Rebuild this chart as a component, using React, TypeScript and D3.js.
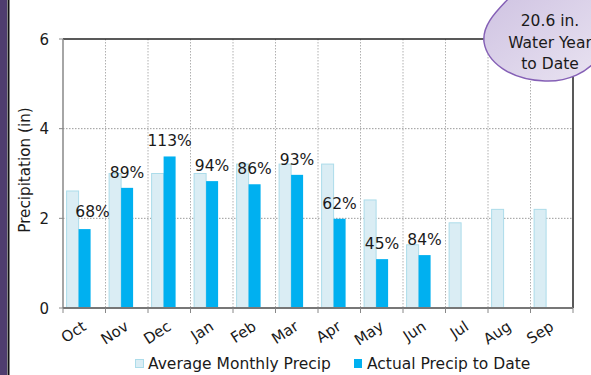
import React from "react";
import * as d3 from "d3";

const months = ["Oct", "Nov", "Dec", "Jan", "Feb", "Mar", "Apr", "May", "Jun", "Jul", "Aug", "Sep"];
const avgPrecip = [2.61, 3.0, 3.0, 3.0, 3.21, 3.21, 3.21, 2.41, 1.41, 1.9, 2.2, 2.2];
const actualPrecip = [1.76, 2.68, 3.38, 2.83, 2.76, 2.97, 1.99, 1.09, 1.18];
const pctLabels = ["68%", "89%", "113%", "94%", "86%", "93%", "62%", "45%", "84%"];
const yTicks = [0, 2, 4, 6];
const bubbleLines = ["20.6 in.", "Water Year", "to Date"];
const legendItems = ["Average Monthly Precip", "Actual Precip to Date"];

const W = 591, H = 375;
const L = 63, R = 573, T = 39, B = 308;
const FONT = "'DejaVu Sans', sans-serif";

export default function App() {
  const x = d3.scaleBand<string>().domain(months).range([L, R]).padding(0);
  const y = d3.scaleLinear().domain([0, 6]).range([B, T]);
  const sub = d3.scaleBand<string>().domain(["avg", "act"]).range([3.6, 27.6]).padding(0);
  const bw = sub.bandwidth();
  const boundaries = d3.range(months.length + 1).map((i) => L + i * x.step());

  return (
    <svg width={W} height={H} style={{ position: "absolute", left: 0, top: 0, background: "#fff" }} fontFamily={FONT}>
      <defs>
        <linearGradient id="bub" x1="0" y1="0" x2="1" y2="1">
          <stop offset="0" stopColor="#cfc3e2" />
          <stop offset="1" stopColor="#e9e3f1" />
        </linearGradient>
      </defs>
      {/* left frame */}
      <rect x={0} y={0} width={7} height={H} fill="#4f3d6f" />
      <rect x={7.5} y={0} width={2} height={H} fill="#111" />

      {/* gridlines */}
      {yTicks.filter((t) => t > 0 && t < 6).map((t) => (
        <line key={"hg" + t} x1={L} x2={R} y1={y(t)} y2={y(t)} stroke="#9a9a9a" strokeDasharray="1.5,1.5" />
      ))}
      {boundaries.slice(1, -1).map((bx, i) => (
        <line key={"vg" + i} x1={bx} x2={bx} y1={T} y2={B} stroke="#b0b0b0" strokeDasharray="1.5,1.5" />
      ))}

      {/* bars */}
      {months.map((m, i) => (
        <g key={m}>
          <rect x={x(m)! + sub("avg")!} y={y(avgPrecip[i])} width={bw} height={B - y(avgPrecip[i])}
            fill="#daedf4" stroke="#acdcea" strokeWidth={1} />
          {i < actualPrecip.length && (
            <rect x={x(m)! + sub("act")!} y={y(actualPrecip[i])} width={bw} height={B - y(actualPrecip[i])}
              fill="#00b0f0" />
          )}
        </g>
      ))}

      {/* percentage labels */}
      {pctLabels.map((p, i) => (
        <text key={"p" + i} x={x(months[i])! + sub("act")! + bw / 2 + (i === 0 ? 8 : 0)}
          y={y(actualPrecip[i]) - (i === 0 ? 12 : 10)} textAnchor="middle" fontSize={15.5} fill="#1a1a1a">{p}</text>
      ))}

      {/* frame */}
      <line x1={L} x2={R} y1={T} y2={T} stroke="#222" strokeWidth={1.5} />
      <line x1={R} x2={R} y1={T} y2={B} stroke="#222" strokeWidth={1.5} />
      <line x1={L} x2={L} y1={T} y2={B} stroke="#888" strokeWidth={1.5} />
      <line x1={L} x2={R} y1={B} y2={B} stroke="#777" strokeWidth={2} />

      {/* y ticks */}
      {yTicks.map((t) => (
        <g key={"yt" + t}>
          <line x1={L - 4} x2={L} y1={y(t)} y2={y(t)} stroke="#888" />
          <text x={49} y={y(t) + 5.5} textAnchor="end" fontSize={15} fill="#1a1a1a">{t}</text>
        </g>
      ))}
      {/* x ticks */}
      {boundaries.map((bx, i) => (
        <line key={"xt" + i} x1={bx} x2={bx} y1={B} y2={B + 5} stroke="#888" />
      ))}
      {months.map((m) => {
        const cx = x(m)! + x.bandwidth() / 2 + 3;
        const cy = 329;
        return (
          <text key={"xl" + m} x={cx} y={cy} textAnchor="end" fontSize={15} fill="#1a1a1a"
            transform={`rotate(-33 ${cx} ${cy})`}>{m}</text>
        );
      })}

      {/* y title */}
      <text transform={`translate(30 170) rotate(-90)`} textAnchor="middle" fontSize={15.2} fill="#1a1a1a">
        Precipitation (in)
      </text>

      {/* legend */}
      <rect x={135.5} y={359.5} width={8} height={8} fill="#daedf4" stroke="#acdcea" />
      <text x={148} y={368.5} fontSize={15.5} fill="#1a1a1a">{legendItems[0]}</text>
      <rect x={354} y={359} width={8} height={9} fill="#00b0f0" />
      <text x={367} y={368.5} fontSize={15.5} fill="#1a1a1a">{legendItems[1]}</text>

      {/* bubble */}
      <path d="M 510 -3 C 498 10, 482 24, 484 42 C 487 62, 510 80, 545 81 C 568 82, 588 72, 598 58 L 598 -3 Z"
        fill="url(#bub)" stroke="#8560b6" strokeWidth={1.5} />
      {bubbleLines.map((l, i) => (
        <text key={"b" + i} x={550} y={26 + i * 21.5} textAnchor="middle" fontSize={15.5} fill="#1a1a1a">{l}</text>
      ))}
    </svg>
  );
}
